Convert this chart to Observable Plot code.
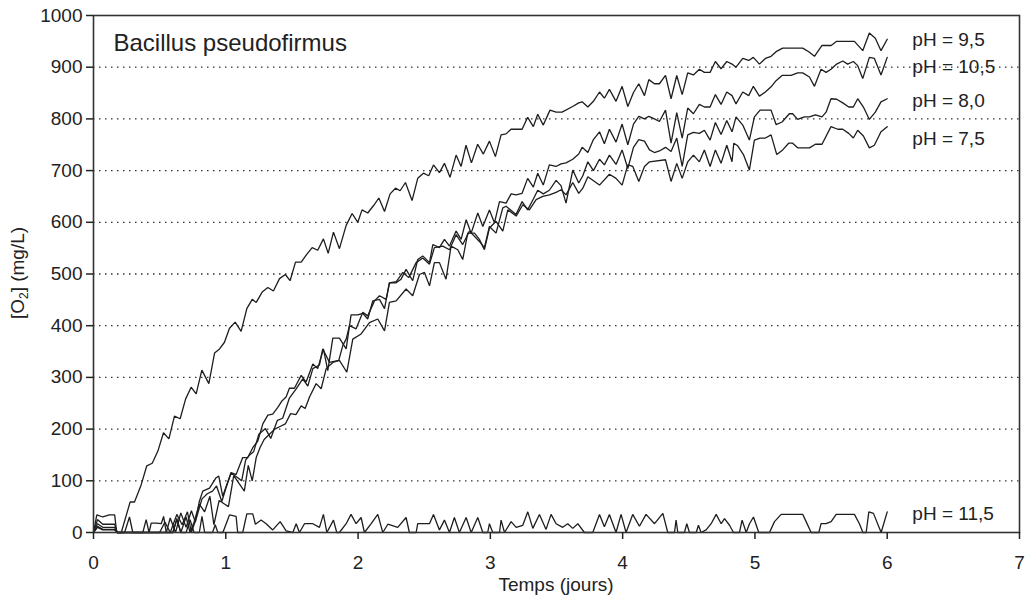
<!DOCTYPE html>
<html>
<head>
<meta charset="utf-8">
<script src="https://cdn.jsdelivr.net/npm/d3@7"></script>
<script src="https://cdn.jsdelivr.net/npm/@observablehq/plot@0.6"></script>
<style>
  html, body { margin: 0; padding: 0; background: #fff; }
  #chart svg { display: block; }
</style>
</head>
<body>
<div id="chart"></div>
<script>
// ---- data: [time (days), O2 (mg/L)] ----
const ph95 = [[0,0],[0.025,34],[0.07,30],[0.12,34],[0.16,34],[0.175,0],[0.21,0],[0.277,59],[0.31,59],[0.36,92],[0.403,129],[0.444,134],[0.486,157],[0.529,193],[0.57,181],[0.612,225],[0.655,220],[0.696,258],[0.738,281],[0.776,268],[0.819,314],[0.872,288],[0.915,347],[0.953,355],[0.99,368],[1.028,395],[1.071,407],[1.116,389],[1.159,433],[1.2,451],[1.23,445],[1.275,465],[1.318,474],[1.36,467],[1.406,491],[1.45,499],[1.486,487],[1.527,523],[1.57,523],[1.612,538],[1.653,551],[1.695,546],[1.738,568],[1.774,540],[1.814,581],[1.859,549],[1.91,594],[1.955,617],[1.998,600],[2.03,624],[2.073,618],[2.116,632],[2.157,647],[2.2,621],[2.242,655],[2.283,666],[2.318,661],[2.358,677],[2.408,642],[2.451,685],[2.494,695],[2.534,690],[2.57,711],[2.615,696],[2.653,714],[2.695,687],[2.741,730],[2.779,708],[2.816,749],[2.857,715],[2.904,751],[2.947,732],[2.993,757],[3.038,727],[3.081,769],[3.119,771],[3.156,780],[3.24,780],[3.282,803],[3.325,785],[3.358,809],[3.4,788],[3.451,817],[3.497,813],[3.542,813],[3.622,824],[3.668,831],[3.694,833],[3.737,823],[3.779,834],[3.825,852],[3.862,840],[3.9,857],[3.95,834],[3.996,863],[4.039,824],[4.082,851],[4.122,868],[4.165,845],[4.198,876],[4.24,868],[4.278,868],[4.324,884],[4.366,839],[4.409,884],[4.45,847],[4.492,889],[4.535,885],[4.58,896],[4.618,890],[4.661,890],[4.701,911],[4.744,897],[4.787,911],[4.827,906],[4.857,900],[4.908,917],[4.953,913],[4.988,919],[5.034,906],[5.079,917],[5.122,921],[5.16,930],[5.21,937],[5.361,937],[5.407,930],[5.45,921],[5.507,942],[5.576,942],[5.618,950],[5.752,950],[5.815,932],[5.865,966],[5.91,956],[5.953,932],[6.0,954]];

const ph105 = [[0,0],[0.03,25],[0.07,16],[0.12,16],[0.16,16],[0.18,0],[0.55,0],[0.58,28],[0.62,0],[0.66,38],[0.7,10],[0.74,42],[0.77,20],[0.8,60],[0.826,80],[0.877,86],[0.927,106],[0.947,109],[0.977,70],[1.04,116],[1.078,112],[1.128,145],[1.166,145],[1.204,164],[1.242,177],[1.28,210],[1.318,227],[1.355,229],[1.393,242],[1.426,255],[1.456,262],[1.481,279],[1.519,279],[1.57,304],[1.607,291],[1.658,326],[1.695,317],[1.738,355],[1.771,313],[1.809,376],[1.859,376],[1.91,355],[1.947,421],[1.998,421],[2.036,424],[2.073,413],[2.111,448],[2.162,451],[2.2,433],[2.237,483],[2.288,483],[2.325,490],[2.363,509],[2.413,487],[2.451,528],[2.489,535],[2.54,522],[2.565,557],[2.615,551],[2.653,567],[2.691,554],[2.741,583],[2.779,567],[2.817,605],[2.855,579],[2.905,618],[2.943,592],[2.993,624],[3.031,599],[3.069,640],[3.119,637],[3.157,655],[3.195,653],[3.24,656],[3.282,685],[3.325,668],[3.358,695],[3.4,672],[3.446,711],[3.497,708],[3.534,713],[3.572,715],[3.623,722],[3.668,732],[3.694,745],[3.737,735],[3.779,760],[3.825,775],[3.862,752],[3.9,780],[3.95,755],[3.996,790],[4.039,750],[4.082,790],[4.122,805],[4.165,800],[4.198,805],[4.24,800],[4.278,795],[4.324,817],[4.366,753],[4.409,812],[4.45,763],[4.492,821],[4.535,810],[4.58,828],[4.618,823],[4.661,823],[4.701,847],[4.744,828],[4.787,852],[4.827,845],[4.857,829],[4.908,852],[4.953,845],[4.988,863],[5.034,844],[5.079,852],[5.122,862],[5.16,874],[5.205,884],[5.273,884],[5.323,889],[5.361,889],[5.412,881],[5.45,863],[5.5,896],[5.538,890],[5.575,896],[5.618,906],[5.664,912],[5.701,906],[5.744,911],[5.777,903],[5.815,878],[5.865,919],[5.903,917],[5.953,885],[6.0,919]];

const ph80 = [[0,0],[0.03,17],[0.07,10],[0.12,10],[0.16,10],[0.18,0],[0.5,0],[0.54,20],[0.58,0],[0.63,35],[0.67,15],[0.71,40],[0.74,0],[0.78,30],[0.82,65],[0.86,75],[0.9,80],[0.93,90],[0.97,60],[1.0,85],[1.04,115],[1.08,108],[1.12,100],[1.15,140],[1.18,150],[1.21,156],[1.25,190],[1.3,201],[1.34,182],[1.39,217],[1.43,221],[1.481,260],[1.532,278],[1.582,297],[1.62,283],[1.658,317],[1.708,324],[1.733,355],[1.784,329],[1.854,333],[1.885,362],[1.91,374],[1.935,400],[1.985,394],[2.036,426],[2.073,419],[2.124,448],[2.162,458],[2.212,451],[2.237,483],[2.288,485],[2.338,503],[2.383,493],[2.439,522],[2.489,531],[2.54,519],[2.577,551],[2.64,554],[2.691,547],[2.741,576],[2.791,557],[2.842,583],[2.917,563],[2.955,551],[2.993,592],[3.043,579],[3.094,628],[3.119,631],[3.194,615],[3.24,640],[3.282,624],[3.325,645],[3.358,662],[3.4,655],[3.446,662],[3.497,681],[3.534,671],[3.572,637],[3.623,701],[3.668,676],[3.699,690],[3.737,717],[3.779,700],[3.825,722],[3.862,711],[3.9,730],[3.95,712],[3.996,740],[4.039,704],[4.082,745],[4.122,760],[4.165,757],[4.203,740],[4.24,735],[4.278,738],[4.324,745],[4.366,737],[4.409,763],[4.45,708],[4.492,769],[4.535,774],[4.58,772],[4.618,778],[4.661,759],[4.701,793],[4.744,770],[4.787,797],[4.827,775],[4.857,804],[4.908,788],[4.958,759],[4.996,804],[5.039,817],[5.122,817],[5.16,789],[5.205,794],[5.26,810],[5.285,810],[5.323,799],[5.374,804],[5.412,804],[5.457,808],[5.507,804],[5.538,813],[5.575,839],[5.618,838],[5.664,831],[5.709,823],[5.744,823],[5.777,839],[5.82,823],[5.865,799],[5.91,813],[5.953,833],[6.0,839]];

const ph75 = [[0,0],[0.03,12],[0.07,6],[0.12,6],[0.16,6],[0.18,0],[0.6,0],[0.63,25],[0.66,0],[0.7,30],[0.73,0],[0.76,20],[0.8,55],[0.84,40],[0.88,70],[0.91,15],[0.95,62],[0.99,55],[1.02,50],[1.06,110],[1.1,95],[1.14,80],[1.17,130],[1.2,100],[1.23,145],[1.26,165],[1.29,180],[1.33,190],[1.37,200],[1.41,205],[1.45,210],[1.49,230],[1.53,228],[1.57,245],[1.6,240],[1.633,262],[1.683,288],[1.721,278],[1.759,317],[1.809,329],[1.859,333],[1.915,310],[1.96,374],[2.023,384],[2.086,406],[2.149,413],[2.2,390],[2.237,445],[2.288,448],[2.363,471],[2.413,458],[2.464,499],[2.502,503],[2.54,477],[2.577,522],[2.615,522],[2.665,490],[2.703,554],[2.754,547],[2.791,528],[2.829,579],[2.88,579],[2.917,567],[2.955,547],[2.993,589],[3.043,602],[3.094,583],[3.132,624],[3.195,612],[3.245,634],[3.295,624],[3.346,644],[3.396,650],[3.447,653],[3.497,658],[3.534,663],[3.572,653],[3.623,677],[3.668,656],[3.699,666],[3.737,688],[3.825,672],[3.9,693],[3.95,685],[3.996,672],[4.039,711],[4.077,708],[4.122,679],[4.165,708],[4.203,717],[4.324,721],[4.366,679],[4.409,714],[4.45,685],[4.492,717],[4.535,730],[4.58,717],[4.618,740],[4.661,708],[4.701,740],[4.744,714],[4.787,749],[4.827,717],[4.84,753],[4.87,748],[4.913,731],[4.958,701],[4.996,759],[5.039,763],[5.079,763],[5.122,769],[5.165,731],[5.21,740],[5.255,753],[5.285,753],[5.323,744],[5.412,744],[5.457,751],[5.507,751],[5.575,785],[5.626,780],[5.664,780],[5.709,772],[5.744,763],[5.777,778],[5.82,767],[5.865,744],[5.903,749],[5.953,775],[6.0,785]];

const ph115 = [[0,0],[0.03,10],[0.07,5],[0.12,5],[0.16,5],[0.18,0],[0.235,0],[0.272,30],[0.297,0],[0.373,0],[0.398,25],[0.42,0],[0.436,18],[0.474,18],[0.512,17],[0.53,31],[0.55,0],[0.6,0],[0.63,27],[0.66,0],[0.7,0],[0.73,25],[0.76,0],[0.8,0],[0.82,31],[0.84,0],[0.9,0],[0.92,15],[0.94,0],[0.978,0],[1.028,34],[1.078,31],[1.09,0],[1.128,0],[1.159,36],[1.204,36],[1.224,16],[1.267,24],[1.305,17],[1.355,5],[1.411,21],[1.456,3],[1.507,0],[1.532,17],[1.557,0],[1.595,17],[1.658,17],[1.708,10],[1.738,35],[1.764,0],[1.814,24],[1.839,0],[1.859,0],[1.91,17],[1.947,35],[1.985,17],[2.023,29],[2.048,0],[2.099,17],[2.149,35],[2.187,0],[2.225,16],[2.3,10],[2.363,29],[2.388,0],[2.439,0],[2.451,17],[2.54,17],[2.57,35],[2.615,5],[2.653,24],[2.691,0],[2.728,29],[2.766,0],[2.817,29],[2.855,0],[2.905,29],[2.943,0],[2.98,0],[2.993,17],[3.018,0],[3.069,0],[3.081,24],[3.107,0],[3.157,21],[3.195,10],[3.245,14],[3.283,40],[3.321,8],[3.371,35],[3.421,6],[3.459,35],[3.497,17],[3.547,10],[3.585,17],[3.623,8],[3.661,17],[3.711,0],[3.774,0],[3.825,35],[3.862,11],[3.9,35],[3.95,0],[3.988,35],[4.026,0],[4.076,35],[4.127,12],[4.177,35],[4.241,17],[4.304,37],[4.341,0],[4.392,0],[4.404,24],[4.417,0],[4.467,0],[4.485,17],[4.505,0],[4.556,0],[4.573,14],[4.593,0],[4.631,5],[4.669,17],[4.707,35],[4.745,17],[4.77,27],[4.808,14],[4.838,0],[4.883,0],[4.903,24],[4.934,0],[4.959,17],[4.989,30],[5.029,0],[5.11,0],[5.148,21],[5.198,35],[5.362,35],[5.387,21],[5.425,0],[5.483,0],[5.5,17],[5.538,17],[5.576,21],[5.614,35],[5.752,35],[5.79,17],[5.816,0],[5.841,0],[5.861,40],[5.896,37],[5.954,0],[6.0,40]];

const seriesNames = ["pH = 9,5", "pH = 10,5", "pH = 8,0", "pH = 7,5", "pH = 11,5"];
const seriesData = [ph95, ph105, ph80, ph75, ph115];
const xTicks = [0, 1, 2, 3, 4, 5, 6, 7];
const yTicks = [0, 100, 200, 300, 400, 500, 600, 700, 800, 900, 1000];
const gridValues = [100, 200, 300, 400, 500, 600, 700, 800, 900];
const chartTitle = "Bacillus pseudofirmus";
const xTitle = "Temps (jours)";

// ---- layout (positions of end labels in data units) ----
const labelX = 6.19;
const labelY = [952, 900, 834, 762, 35];

const rows = seriesData.flatMap((pts, i) => pts.map(([t, v]) => ({t, v, s: seriesNames[i]})));
const labels = seriesNames.map((name, i) => ({name, y: labelY[i]}));

const FONT = "'Liberation Sans', Arial, Helvetica, sans-serif";
const INK = "#222";

const svg = Plot.plot({
  width: 1026,
  height: 602,
  marginLeft: 93,
  marginRight: 7,
  marginTop: 15,
  marginBottom: 70,
  x: {domain: [0, 7]},
  y: {domain: [0, 1000]},
  style: {fontFamily: FONT, fontSize: "19px", color: INK, background: "#fff"},
  marks: [
    Plot.ruleY(gridValues, {stroke: "#333", strokeWidth: 1.3, strokeDasharray: "1.5,4.5"}),
    Plot.line(rows, {x: "t", y: "v", z: "s", stroke: "#1e1e1e", strokeWidth: 1.3, strokeLinejoin: "miter"}),
    Plot.frame({stroke: "#333", strokeWidth: 1.6}),
    Plot.axisY({ticks: yTicks, tickSize: 7, tickPadding: 4, tickFormat: d => String(d), label: null, fontSize: 19, strokeWidth: 1.5}),
    Plot.axisX({ticks: xTicks, tickSize: 7, tickPadding: 16, tickFormat: d => String(d), label: null, fontSize: 19, strokeWidth: 1.5}),
    Plot.text(labels, {x: () => labelX, y: "y", text: "name", textAnchor: "start", lineAnchor: "middle", fontSize: 19, fill: INK}),
    Plot.text([chartTitle], {x: () => 0.151, y: () => 946, text: d => d, textAnchor: "start", lineAnchor: "middle", fontSize: 24, fill: INK})
  ]
});

const root = d3.select(svg);
// x-axis title
root.append("text")
  .attr("x", 556).attr("y", 591)
  .attr("text-anchor", "middle")
  .attr("font-family", FONT).attr("font-size", 19).attr("fill", INK)
  .text(xTitle);
// y-axis title with subscript
const yt = root.append("text")
  .attr("transform", "translate(24,273) rotate(-90)")
  .attr("text-anchor", "middle")
  .attr("font-family", FONT).attr("font-size", 19).attr("fill", INK);
yt.append("tspan").text("[O");
yt.append("tspan").attr("font-size", 12).attr("dy", 4).text("2");
yt.append("tspan").attr("dy", -4).text("] (mg/L)");

document.getElementById("chart").appendChild(svg);
</script>
</body>
</html>
